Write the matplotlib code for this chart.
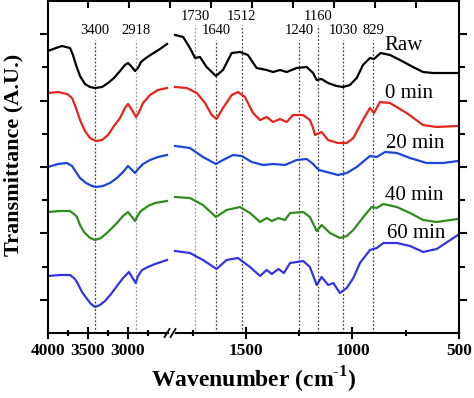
import matplotlib
matplotlib.use('Agg')
import matplotlib.pyplot as plt
from matplotlib.ticker import FixedLocator

plt.rcParams['font.family'] = ['Liberation Serif', 'DejaVu Serif']
plt.rcParams['mathtext.fontset'] = 'custom'
plt.rcParams['mathtext.rm'] = 'Liberation Serif'
plt.rcParams['mathtext.bf'] = 'Liberation Serif:bold'

# high wavenumber region (4000 - 2500)
raw_hi_wn = [4000, 3900, 3825, 3775, 3725, 3688, 3650, 3600, 3538, 3475, 3412, 3325, 3250, 3175, 3100, 3038, 3000, 2962, 2912, 2875, 2838, 2775, 2700, 2600, 2512]
raw_hi_t = [282, 285, 287, 286, 285, 278, 268, 257, 249, 246, 245, 246, 250, 255, 262, 268, 270, 267, 262, 265, 271, 275, 279, 284, 289]
m0_hi_wn = [4000, 3875, 3762, 3700, 3650, 3600, 3538, 3475, 3400, 3325, 3250, 3175, 3100, 3038, 3000, 2950, 2900, 2862, 2812, 2725, 2625, 2512]
m0_hi_t = [240, 241, 239, 235, 225, 213, 202, 195, 192, 193, 198, 207, 215, 225, 229, 223, 216, 221, 230, 238, 243, 245]
m20_hi_wn = [4000, 3875, 3762, 3700, 3650, 3600, 3525, 3450, 3400, 3312, 3225, 3138, 3062, 3000, 2950, 2912, 2862, 2812, 2725, 2625, 2512]
m20_hi_t = [166, 169, 170, 167, 161, 155, 150, 147, 146, 147, 150, 155, 161, 167, 163, 160, 165, 169, 173, 176, 178]
m40_hi_wn = [4000, 3850, 3725, 3675, 3638, 3600, 3550, 3475, 3412, 3338, 3250, 3150, 3062, 3000, 2950, 2912, 2875, 2838, 2750, 2662, 2512]
m40_hi_t = [121, 122, 122, 119, 116, 108, 101, 95, 93, 95, 101, 109, 117, 121, 116, 112, 118, 122, 127, 130, 132]
m60_hi_wn = [4000, 3850, 3725, 3675, 3638, 3575, 3512, 3462, 3412, 3350, 3288, 3212, 3138, 3062, 2988, 2950, 2904, 2875, 2825, 2750, 2662, 2512]
m60_hi_t = [57, 58, 58, 55, 51, 41, 34, 29, 26, 28, 32, 39, 47, 55, 61, 56, 50, 57, 63, 66, 69, 73]

# fingerprint region (1850 - 500)
raw_lo_wn = [1833, 1795, 1763, 1739, 1716, 1685, 1641, 1608, 1567, 1528, 1491, 1450, 1403, 1373, 1340, 1309, 1262, 1215, 1185, 1168, 1145, 1115, 1074, 1045, 1012, 980, 951, 918, 899, 868, 824, 777, 716, 669, 622, 505]
raw_lo_t = [298, 296, 285, 275, 276, 266, 257, 263, 280, 281, 278, 265, 263, 261, 263, 261, 265, 266, 260, 253, 254, 250, 247, 246, 248, 255, 268, 275, 274, 280, 278, 273, 266, 261, 260, 260]
m0_lo_wn = [1833, 1778, 1731, 1692, 1661, 1638, 1608, 1567, 1538, 1505, 1467, 1434, 1403, 1373, 1340, 1309, 1279, 1232, 1200, 1185, 1176, 1145, 1115, 1068, 1027, 996, 951, 918, 899, 871, 824, 746, 669, 605, 505]
m0_lo_t = [246, 245, 240, 230, 218, 214, 225, 238, 241, 236, 220, 213, 216, 211, 214, 211, 218, 218, 213, 205, 198, 201, 193, 190, 190, 195, 213, 225, 220, 231, 230, 220, 208, 206, 207]
m20_lo_wn = [1833, 1763, 1702, 1641, 1608, 1561, 1520, 1473, 1420, 1373, 1317, 1262, 1215, 1185, 1168, 1157, 1121, 1068, 1027, 980, 918, 886, 847, 792, 730, 652, 575, 505]
m20_lo_t = [187, 185, 176, 169, 173, 178, 177, 171, 168, 169, 168, 173, 174, 169, 165, 163, 161, 158, 160, 166, 177, 176, 181, 180, 175, 170, 170, 172]
m40_lo_wn = [1833, 1763, 1702, 1641, 1591, 1528, 1481, 1434, 1403, 1379, 1348, 1317, 1293, 1231, 1200, 1168, 1145, 1106, 1059, 1027, 996, 949, 910, 886, 855, 792, 730, 668, 605, 505]
m40_lo_t = [136, 135, 128, 116, 123, 126, 120, 111, 115, 112, 115, 113, 120, 121, 116, 102, 108, 100, 95, 97, 103, 116, 126, 125, 129, 126, 120, 113, 111, 114]
m60_lo_wn = [1833, 1763, 1702, 1638, 1591, 1538, 1481, 1434, 1403, 1379, 1348, 1322, 1293, 1231, 1200, 1168, 1145, 1114, 1090, 1059, 1027, 996, 965, 918, 886, 855, 792, 730, 668, 605, 505]
m60_lo_t = [82, 80, 73, 64, 73, 75, 66, 57, 63, 59, 64, 60, 70, 72, 66, 48, 56, 48, 50, 40, 45, 55, 70, 83, 85, 90, 90, 87, 81, 84, 98]

series_names = ['Raw', '0 min', '20 min', '40 min', '60 min']
series_colors = ['black', '#e8231c', '#1a45d8', '#2e8c1c', '#3434e2']
name_pos = [(852, 288), (847, 240), (843, 190), (847, 138), (838, 100)]

hi_peak_pos = [3410, 2900]
hi_peak_labels = ['3400', '2918']
hi_peak_row = [0, 0]
lo_peak_pos = [1740, 1640, 1520, 1250, 1162, 1045, 904]
lo_peak_labels = ['1730', '1640', '1512', '1240', '1160', '1030', '829']
lo_peak_row = [1, 0, 1, 0, 1, 0, 0]
light_peaks = ['2918', '1730']

hi_data = [(raw_hi_wn, raw_hi_t), (m0_hi_wn, m0_hi_t), (m20_hi_wn, m20_hi_t), (m40_hi_wn, m40_hi_t), (m60_hi_wn, m60_hi_t)]
lo_data = [(raw_lo_wn, raw_lo_t), (m0_lo_wn, m0_lo_t), (m20_lo_wn, m20_lo_t), (m40_lo_wn, m40_lo_t), (m60_lo_wn, m60_lo_t)]

W, H = 474, 398
fig = plt.figure(figsize=(W / 100, H / 100), dpi=100)

x0, xb, x1 = 48, 171, 459
y_top, y_bot = 1, 333
bottom = (H - y_bot) / H
height = (y_bot - y_top) / H

ax1 = fig.add_axes([x0 / W, bottom, (xb - x0) / W, height])
ax2 = fig.add_axes([xb / W, bottom, (x1 - xb) / W, height])
frame = fig.add_axes([x0 / W, bottom, (x1 - x0) / W, height])

ax1.set_xlim(4000, 2462.5)
ax2.set_xlim(1852, 500)
ax1.spines['bottom'].set_bounds(4000, 2500)
ax2.spines['bottom'].set_bounds(1830, 500)
ax1.xaxis.set_major_locator(FixedLocator([4000, 3500, 3000]))
ax1.xaxis.set_minor_locator(FixedLocator([3750, 3250, 2750]))
ax2.xaxis.set_major_locator(FixedLocator([1500, 1000, 500]))
ax2.xaxis.set_minor_locator(FixedLocator([1750, 1250, 750]))
for ax in (ax1, ax2):
    ax.set_ylim(0, 332)
    ax.set_yticks([])
    for s in ('top', 'left', 'right'):
        ax.spines[s].set_visible(False)
    ax.spines['bottom'].set_linewidth(1.5)
    ax.tick_params(axis='x', which='major', direction='inout', length=8, width=1.5, pad=3,
                   labelsize=12.5)
    ax.tick_params(axis='x', which='minor', direction='inout', length=5, width=1.5)
    for lab in ax.get_xticklabels():
        lab.set_fontweight('bold')

for (wn, t), c in zip(hi_data, series_colors):
    ax1.plot(wn, t, color=c, lw=1.6, solid_joinstyle='round')
for (wn, t), c in zip(lo_data, series_colors):
    ax2.plot(wn, t, color=c, lw=1.6, solid_joinstyle='round')

row_y = [302, 317]
line_top = [293, 308]
for ax, pos, labels, rows in ((ax1, hi_peak_pos, hi_peak_labels, hi_peak_row),
                              (ax2, lo_peak_pos, lo_peak_labels, lo_peak_row)):
    for p, lab, r in zip(pos, labels, rows):
        col = '#9a9a9a' if lab in light_peaks else '#444444'
        ax.plot([p, p], [0, line_top[r]], color=col, lw=0.9, ls=(0, (1.5, 1.5)), zorder=1)
        ax.text(p, row_y[r], lab, ha='center', va='center', fontsize=10.5)

for name, (px, py) in zip(series_names, name_pos):
    ax2.text(px, py, name, ha='left', va='center', fontsize=15)

# outer frame: top / left / right spines with ticks
frame.patch.set_visible(False)
frame.set_xlim(0, x1 - x0)
frame.set_ylim(0, 332)
frame.spines['bottom'].set_visible(False)
for s in ('top', 'left', 'right'):
    frame.spines[s].set_linewidth(1.5)
frame.xaxis.set_ticks_position('top')
frame.set_xticks([40 + 41 * k for k in range(9)])
frame.tick_params(axis='x', direction='in', length=5, width=1.5, labeltop=False, labelbottom=False)
frame.yaxis.set_ticks_position('both')
frame.yaxis.set_major_locator(FixedLocator([33.2 * k for k in (1, 3, 5, 7, 9)]))
frame.yaxis.set_minor_locator(FixedLocator([33.2 * k for k in (2, 4, 6, 8)]))
frame.tick_params(axis='y', which='major', direction='out', length=6, width=1.5, labelleft=False)
frame.tick_params(axis='y', which='minor', direction='out', length=4, width=1.5)
frame.yaxis.set_tick_params(which='both', labelright=False)

# break marks
bx = xb - x0
for dx in (-4, 2):
    frame.plot([bx + dx - 2.5, bx + dx + 2.5], [-4, 4], color='black', lw=1.3, clip_on=False)

fig.text(254 / W, 1 - 380 / H, 'Wavenumber (cm$^{\\mathbf{\\text{-}1}}$)', ha='center', va='center',
         fontsize=17, fontweight='bold')
fig.text(13 / W, 1 - 155 / H, 'Transmittance (A.U.)', ha='center', va='center',
         rotation=90, fontsize=16, fontweight='bold')

fig.savefig('out.png', dpi=100)
